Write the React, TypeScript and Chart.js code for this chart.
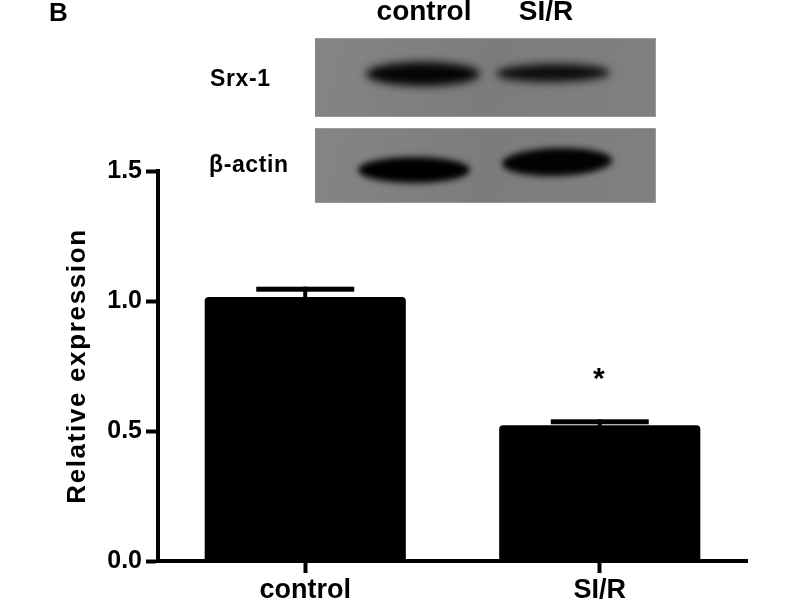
import React, { useEffect, useRef } from "react";
import { Chart, registerables } from "chart.js";

Chart.register(...registerables);

const categories = ["control", "SI/R"];
const meanValues = [1.015, 0.522];
const errorValues = [0.04, 0.023];
const significance = ["", "*"];
const yTicks = [0, 0.5, 1, 1.5];
const blotLabels = ["Srx-1", "β-actin"];
const FONT = '"Liberation Sans", Arial, sans-serif';

const errorBarPlugin = {
  id: "errorBars",
  afterDatasetsDraw(chart: any) {
    const { ctx, scales } = chart;
    ctx.save();
    ctx.fillStyle = "#000";
    categories.forEach((_, i) => {
      const cx = scales.x.getPixelForValue(i);
      const top = scales.y.getPixelForValue(meanValues[i] + errorValues[i]);
      const base = scales.y.getPixelForValue(meanValues[i]);
      ctx.fillRect(cx - 2, top, 4, base - top + 2);
      ctx.fillRect(cx - 49, top, 98, 5);
      if (significance[i]) {
        ctx.font = `bold 30px ${FONT}`;
        ctx.textAlign = "center";
        ctx.textBaseline = "middle";
        ctx.fillText(significance[i], cx - 1, top - 40);
      }
    });
    ctx.restore();
  },
};

function band(ctx: any, x: number, y: number, rx: number, ry: number, tilt: number, blur: number, color: string) {
  ctx.save();
  ctx.filter = `blur(${blur}px)`;
  ctx.fillStyle = color;
  ctx.beginPath();
  ctx.ellipse(x, y, rx, ry, tilt, 0, Math.PI * 2);
  ctx.fill();
  ctx.restore();
}

function panel(ctx: any, x: number, y: number, w: number, h: number, bands: any[]) {
  ctx.save();
  ctx.fillStyle = "#9a9a9a";
  ctx.fillRect(x, y, w, h);
  ctx.beginPath();
  ctx.rect(x, y, w, h);
  ctx.clip();
  const g = ctx.createLinearGradient(x, y, x + w, y + h);
  g.addColorStop(0, "#858585");
  g.addColorStop(0.5, "#7c7c7c");
  g.addColorStop(1, "#808080");
  ctx.fillStyle = g;
  ctx.fillRect(x, y + 1, w - 1, h - 2);
  bands.forEach((b) => band(ctx, b[0], b[1], b[2], b[3], b[4], b[5], b[6]));
  ctx.restore();
}

const blotPlugin = {
  id: "blot",
  afterDraw(chart: any) {
    const ctx = chart.ctx;
    panel(ctx, 315, 38, 341, 79, [
      [423, 74, 57, 12, 0, 4, "#050505"],
      [553, 73, 57, 9, -0.01, 4, "#0c0c0c"],
    ]);
    panel(ctx, 315, 128, 341, 75, [
      [414, 170, 56, 13, 0, 3, "#000"],
      [557, 162, 55, 14, -0.03, 3, "#020202"],
    ]);
    ctx.save();
    ctx.fillStyle = "#000";
    ctx.textBaseline = "middle";
    ctx.font = `bold 26px ${FONT}`;
    ctx.fillText("B", 49, 14);
    ctx.textAlign = "center";
    ctx.font = `bold 28px ${FONT}`;
    ctx.fillText(categories[0], 424, 12);
    ctx.fillText(categories[1], 546, 12);
    ctx.textAlign = "left";
    ctx.font = `bold 23px ${FONT}`;
    ctx.letterSpacing = "0.6px";
    ctx.fillText(blotLabels[0], 210, 80);
    ctx.fillText(blotLabels[1], 209, 166);
    ctx.letterSpacing = "0px";
    ctx.restore();
  },
};

export default function App() {
  const ref = useRef<HTMLCanvasElement>(null);
  useEffect(() => {
    const chart = new Chart(ref.current as HTMLCanvasElement, {
      type: "bar",
      data: {
        labels: categories,
        datasets: [
          {
            data: meanValues,
            backgroundColor: "#000",
            barPercentage: 0.683,
            categoryPercentage: 1,
            borderRadius: { topLeft: 4, topRight: 4, bottomLeft: 0, bottomRight: 0 },
            borderSkipped: "bottom",
          },
        ],
      },
      options: {
        responsive: false,
        animation: false,
        layout: { padding: { left: 62, top: 171, right: 53, bottom: 0 } },
        plugins: { legend: { display: false }, title: { display: false }, tooltip: { enabled: false } },
        scales: {
          x: {
            afterFit: (s: any) => { s.height = 39; },
            border: { display: true, color: "#000", width: 4 },
            grid: { offset: false, drawOnChartArea: false, drawTicks: true, tickLength: 12, tickWidth: 4, tickColor: "#000" },
            ticks: { color: "#000", font: { family: FONT, weight: "bold", size: 27 }, padding: 1, maxRotation: 0 },
          },
          y: {
            min: 0,
            max: 1.5,
            afterFit: (s: any) => {
              s.width = 96;
              if (!s._spaced) {
                s._spaced = true;
                const original = s.drawTitle;
                s.drawTitle = function () {
                  s.ctx.letterSpacing = "1.65px";
                  original.call(s);
                  s.ctx.letterSpacing = "0px";
                };
              }
            },
            afterBuildTicks: (s: any) => { s.ticks = yTicks.map((value) => ({ value })); },
            border: { display: true, color: "#000", width: 4 },
            grid: { drawOnChartArea: false, drawTicks: true, tickLength: 12, tickWidth: 4, tickColor: "#000" },
            ticks: {
              color: "#000",
              font: { family: FONT, weight: "bold", size: 25 },
              padding: 4,
              callback: (v: any) => Number(v).toFixed(1),
            },
            title: {
              display: true,
              text: "Relative expression",
              color: "#000",
              font: { family: FONT, weight: "bold", size: 26 },
              padding: { top: 0, bottom: 0 },
            },
          },
        },
      } as any,
      plugins: [errorBarPlugin, blotPlugin],
    });
    return () => chart.destroy();
  }, []);
  return (
    <div style={{ position: "fixed", left: 0, top: 0, width: 800, height: 600, background: "#fff" }}>
      <canvas ref={ref} width={800} height={600} style={{ display: "block" }} />
    </div>
  );
}
